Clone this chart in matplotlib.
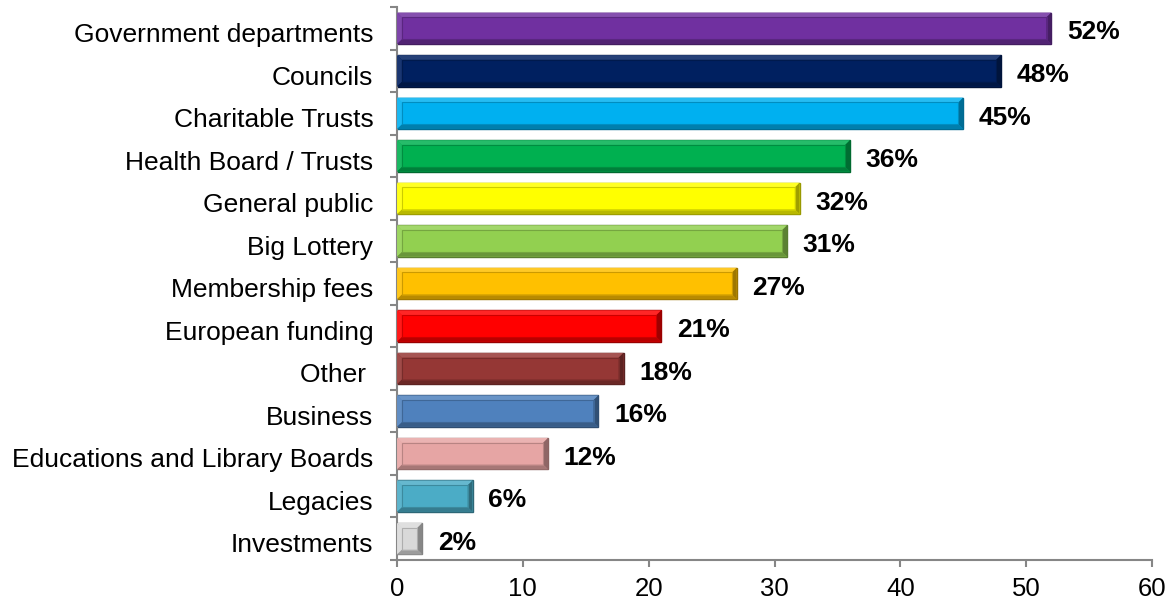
import matplotlib.pyplot as plt
import matplotlib.colors as mcolors
import matplotlib.transforms as mtransforms
from matplotlib.patches import Polygon, Rectangle
import numpy as np

plt.rcParams['font.family'] = ['Liberation Sans', 'DejaVu Sans']

categories = ['Government departments', 'Councils', 'Charitable Trusts',
              'Health Board / Trusts', 'General public', 'Big Lottery',
              'Membership fees', 'European funding', 'Other ', 'Business',
              'Educations and Library Boards', 'Legacies', 'Investments']
values = [52, 48, 45, 36, 32, 31, 27, 21, 18, 16, 12, 6, 2]
colors = ['#7030A0', '#002060', '#00B0F0', '#00B050', '#FFFF00', '#92D050',
          '#FFC000', '#FF0000', '#953735', '#4F81BD', '#E6A5A4', '#4BACC6',
          '#D9D9D9']


def shade(c, f):
    r = np.array(mcolors.to_rgb(c))
    if f < 1:
        return tuple(r * f)
    return tuple(r + (1 - r) * (f - 1))


fig = plt.figure(figsize=(11.75, 6.06), dpi=100)
ax = fig.add_axes([0.3379, 0.0759, 0.9804 - 0.3379, 0.9884 - 0.0759])

y = np.arange(len(categories))[::-1]
h = 0.74
bars = ax.barh(y, values, height=h, color=colors, linewidth=1.0,
               edgecolor=[shade(c, 0.6) for c in colors], zorder=2)

# text sits a few pixels below the bar centre
down = mtransforms.ScaledTranslation(0, -3 / 72, fig.dpi_scale_trans)

# bevelled look: light top/left edges, dark bottom/right edges
bx, by = 0.38, 0.11
for rect, c in zip(bars, colors):
    x0, y0 = rect.get_x(), rect.get_y()
    w, hh = rect.get_width(), rect.get_height()
    x1, y1 = x0 + w, y0 + hh
    ix0, ix1 = x0 + bx, x1 - bx
    iy0, iy1 = y0 + by, y1 - by
    faces = [
        ([(x0, y1), (x1, y1), (ix1, iy1), (ix0, iy1)], shade(c, 1.15)),
        ([(x0, y0), (ix0, iy0), (ix0, iy1), (x0, y1)], shade(c, 1.1)),
        ([(x0, y0), (x1, y0), (ix1, iy0), (ix0, iy0)], shade(c, 0.72)),
        ([(x1, y0), (x1, y1), (ix1, iy1), (ix1, iy0)], shade(c, 0.62)),
    ]
    for pts, fc in faces:
        ax.add_patch(Polygon(pts, closed=True, facecolor=fc, edgecolor='none', zorder=3))
    ax.add_patch(Rectangle((ix0, iy0), ix1 - ix0, iy1 - iy0, fill=False,
                           edgecolor=shade(c, 0.8), linewidth=0.8, zorder=3))
    ax.text(x1 + 1.25, rect.get_y() + hh / 2, f'{int(w)}%', va='center', ha='left',
            fontsize=19, fontweight='bold', zorder=4,
            transform=ax.transData + down)

ax.set_xlim(0, 60)
ax.set_ylim(-0.5, len(categories) - 0.5)
ax.set_xticks(np.arange(0, 61, 10))
ax.set_yticks(y)
ax.set_yticklabels(categories)
ax.set_yticks(np.arange(-0.5, len(categories), 1), minor=True)
ax.tick_params(axis='y', which='major', length=0, pad=17, labelsize=19)
ax.tick_params(axis='y', which='minor', length=5, color='#868686', width=1.5)
ax.tick_params(axis='x', length=5, color='#868686', width=1.5, labelsize=18.5, pad=7)
for lab in ax.get_yticklabels():
    lab.set_transform(lab.get_transform() + down)

for s in ['top', 'right']:
    ax.spines[s].set_visible(False)
for s in ['left', 'bottom']:
    ax.spines[s].set_color('#868686')
    ax.spines[s].set_linewidth(1.5)

fig.savefig('out.png', dpi=100)
